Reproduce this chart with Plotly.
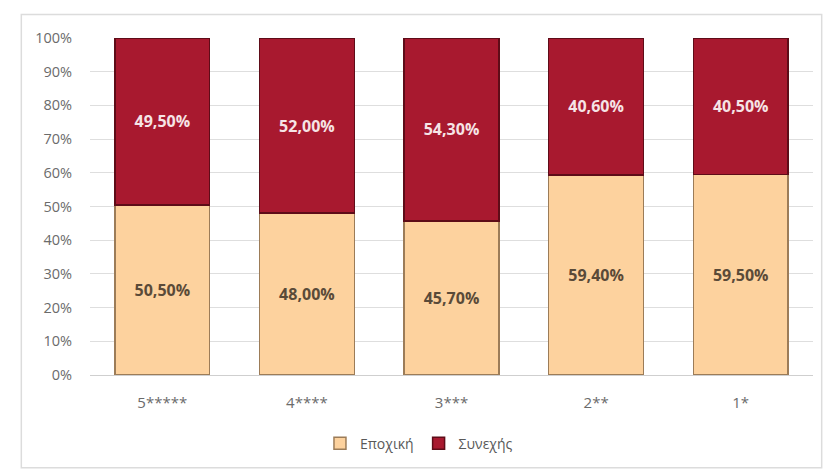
import plotly.graph_objects as go

categories = ["5*****", "4****", "3***", "2**", "1*"]
seasonal = [50.5, 48.0, 45.7, 59.4, 59.5]      # Εποχική
continuous = [49.5, 52.0, 54.3, 40.6, 40.5]    # Συνεχής
y_ticks = [0, 10, 20, 30, 40, 50, 60, 70, 80, 90, 100]


def fmt(v):
    return f"{v:.2f}%".replace(".", ",")


fig = go.Figure()
fig.add_trace(go.Bar(
    name="Εποχική", x=categories, y=seasonal,
    text=[fmt(v) for v in seasonal], textposition="inside",
    insidetextanchor="middle", textangle=0,
    textfont=dict(family="Open Sans", size=16, color="#5a4a38", weight="bold"),
    marker=dict(color="#fdd29e", line=dict(color="#9c7c58", width=1.5)),
))
fig.add_trace(go.Bar(
    name="Συνεχής", x=categories, y=continuous,
    text=[fmt(v) for v in continuous], textposition="inside",
    insidetextanchor="middle", textangle=0,
    textfont=dict(family="Open Sans", size=16, color="#f6e4e6", weight="bold"),
    marker=dict(color="#a8192f", line=dict(color="#5e0c18", width=1.5)),
))

fig.update_layout(
    barmode="stack",
    bargap=0.345,
    width=825, height=470,
    margin=dict(l=90, r=12, t=38, b=94),
    paper_bgcolor="white", plot_bgcolor="white",
    font=dict(family="Open Sans", size=12, color="#6b6b6b"),
    showlegend=True,
    legend=dict(orientation="h", x=0.455, xanchor="center", y=-0.2, yanchor="middle",
                font=dict(size=14, color="#595959"), traceorder="normal",
                itemwidth=30),
    uniformtext=dict(mode="show", minsize=10),
    shapes=[dict(type="rect", xref="paper", yref="paper",
                 x0=-0.095, x1=1.012, y0=-0.275, y1=1.07,
                 line=dict(color="#dcdcdc", width=1.5), fillcolor="rgba(0,0,0,0)",
                 layer="below")],
)
fig.update_yaxes(range=[0, 100], tickvals=y_ticks,
                 ticktext=[f"{t}%" for t in y_ticks],
                 showgrid=True, gridcolor="#dedede", gridwidth=1,
                 zeroline=False, showline=False, ticks="",
                 tickfont=dict(size=14.5, color="#6b6b6b"), ticklabelstandoff=17)
fig.update_xaxes(showline=True, linecolor="#cfcfcf", linewidth=1, ticks="",
                 tickfont=dict(size=15, color="#6b6b6b"), ticklabelstandoff=14)

fig.write_html("out.html")
